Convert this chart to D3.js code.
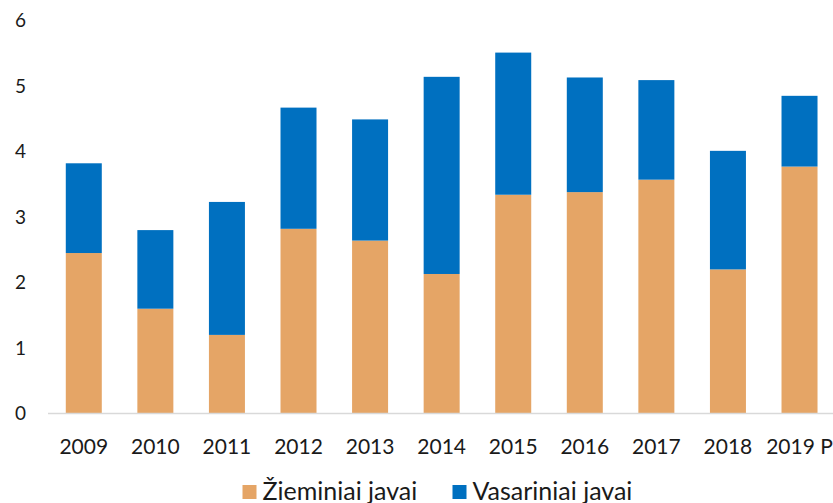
<!DOCTYPE html>
<html>
<head>
<meta charset="utf-8">
<script src="https://cdn.jsdelivr.net/npm/d3@7"></script>
<style>
  html, body { margin: 0; padding: 0; background: #fff; }
  svg { display: block; }
  text { font-family: Lato, "Open Sans", sans-serif; fill: #1a1a1a; }
</style>
</head>
<body>
<svg id="chart" width="833" height="503"></svg>
<script>
const categories = ["2009","2010","2011","2012","2013","2014","2015","2016","2017","2018","2019 P"];
const winterValues = [2.45, 1.60, 1.20, 2.82, 2.64, 2.13, 3.34, 3.38, 3.57, 2.20, 3.77];
const springValues = [1.37, 1.20, 2.03, 1.85, 1.85, 3.01, 2.17, 1.75, 1.52, 1.81, 1.08];
const seriesNames = ["Žieminiai javai", "Vasariniai javai"];
const seriesColors = ["#E5A566", "#0070C0"];
const yTicks = [0, 1, 2, 3, 4, 5, 6];

const svg = d3.select("#chart");
const x = d3.scaleBand().domain(categories).range([48, 835.3]).paddingInner(0.497).paddingOuter(0.2485);
const y = d3.scaleLinear().domain([0, 6]).range([413.5, 20.5]);

const rows = categories.map((c, i) => ({cat: c, w: winterValues[i], s: springValues[i]}));
const stack = d3.stack().keys(["w", "s"])(rows);

svg.append("g").selectAll("g").data(stack).join("g")
  .attr("fill", (d, i) => seriesColors[i])
  .selectAll("rect").data(d => d).join("rect")
  .attr("x", d => x(d.data.cat))
  .attr("width", x.bandwidth())
  .attr("y", d => y(d[1]))
  .attr("height", d => y(d[0]) - y(d[1]));

// x axis line
svg.append("line").attr("x1", 48).attr("x2", 833).attr("y1", y(0)).attr("y2", y(0))
  .attr("stroke", "#d9d9d9").attr("stroke-width", 1.3);

// y tick labels
svg.append("g").selectAll("text").data(yTicks).join("text")
  .attr("x", 26).attr("y", d => y(d)).attr("dy", "0.36em")
  .attr("text-anchor", "end").style("font-size", "19px")
  .text(d => d);

// x tick labels
svg.append("g").selectAll("text").data(categories).join("text")
  .attr("x", d => x(d) + x.bandwidth() / 2).attr("y", 454)
  .attr("text-anchor", "middle").style("font-size", "21px")
  .text(d => d);

// legend
const legendX = [242.5, 452.5];
const lg = svg.append("g").selectAll("g").data(seriesNames).join("g")
  .attr("transform", (d, i) => `translate(${legendX[i]},485)`);
lg.append("rect").attr("width", 14).attr("height", 14).attr("fill", (d, i) => seriesColors[i]);
lg.append("text").attr("x", 20).attr("y", 15).style("font-size", "25px").text(d => d);
</script>
</body>
</html>
